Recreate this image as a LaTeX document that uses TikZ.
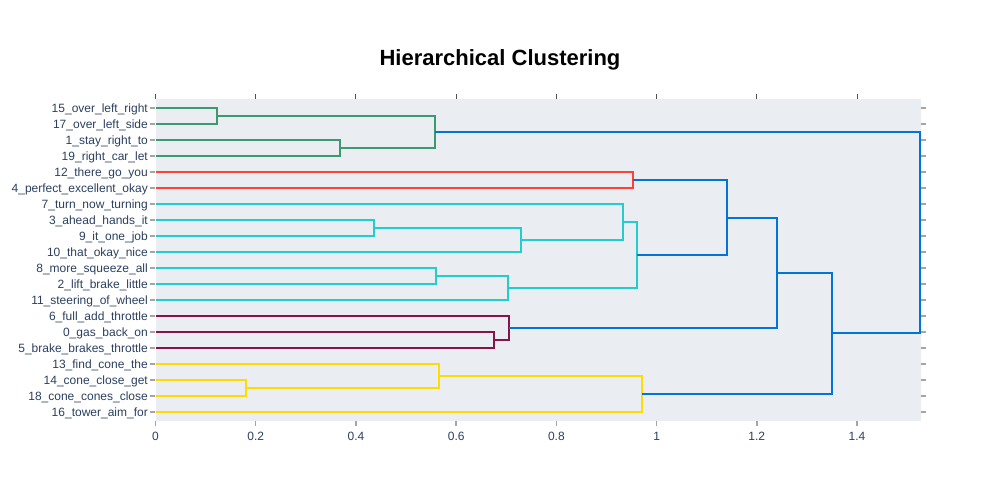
\documentclass[tikz,border=0pt]{standalone}
\usepackage{fontspec}
\setmainfont{Liberation Sans}
\definecolor{cgreen}{RGB}{61,153,112}
\definecolor{cred}{RGB}{255,65,54}
\definecolor{ccyan}{RGB}{35,205,205}
\definecolor{cmaroon}{RGB}{133,20,75}
\definecolor{cyellow}{RGB}{255,220,0}
\definecolor{cblue}{RGB}{0,116,217}
\definecolor{bgc}{RGB}{234,237,241}
\definecolor{labelc}{RGB}{42,63,95}
\definecolor{tickgray}{RGB}{165,165,165}
\definecolor{tickdark}{RGB}{80,80,80}
\begin{document}
\begin{tikzpicture}[x=1pt,y=-1pt,
  link/.style={line width=2pt},
  lbl/.style={anchor=base east, font=\fontsize{12}{12}\selectfont, text=labelc, inner sep=0pt},
  xlbl/.style={anchor=base, font=\fontsize{12}{12}\selectfont, text=labelc, inner sep=0pt},
  sidetick/.style={draw=tickgray, line width=2pt},
  toptick/.style={draw=tickdark, line width=1pt},
  bottick/.style={draw=tickgray, line width=1.5pt}]
\useasboundingbox (0,0) rectangle (1000,500);
\fill[bgc] (155.5,99) rectangle (920.7,420.7);
\node[font=\fontsize{22}{22}\selectfont\bfseries, text=black, inner sep=0pt, anchor=base] (title) at (500,65.5) {Hierarchical Clustering};
% x axis ticks
\foreach \v/\s in {0/0,0.2/0.2,0.4/0.4,0.6/0.6,0.8/0.8,1/1,1.2/1.2,1.4/1.4}{
  \draw[toptick] ({155.5+501.1*\v},94) -- ({155.5+501.1*\v},99);
  \draw[bottick] ({155.5+501.1*\v},420.7) -- ({155.5+501.1*\v},425.5);
  \node[xlbl] at ({155.5+501.1*\v},440) {\s};
}
% leaves
\foreach \n/\t [count=\i from 0] in {
  15/15\_over\_left\_right, 17/17\_over\_left\_side, 1/1\_stay\_right\_to, 19/19\_right\_car\_let,
  12/12\_there\_go\_you, 4/4\_perfect\_excellent\_okay, 7/7\_turn\_now\_turning, 3/3\_ahead\_hands\_it,
  9/9\_it\_one\_job, 10/10\_that\_okay\_nice, 8/8\_more\_squeeze\_all, 2/2\_lift\_brake\_little,
  11/11\_steering\_of\_wheel, 6/6\_full\_add\_throttle, 0/0\_gas\_back\_on, 5/5\_brake\_brakes\_throttle,
  13/13\_find\_cone\_the, 14/14\_cone\_close\_get, 18/18\_cone\_cones\_close, 16/16\_tower\_aim\_for}{
  \coordinate (L\n) at (155.5,{108+16*\i});
  \draw[sidetick] (150,{108+16*\i}) -- (155,{108+16*\i});
  \draw[sidetick] (920.7,{108+16*\i}) -- (926,{108+16*\i});
  \node[lbl] (t\n) at (148,{112.3+16*\i}) {\t};
}
% join points
\coordinate (A) at (216.6,116);
\coordinate (B) at (339.9,148);
\coordinate (G) at (435.1,132);
\coordinate (R) at (632.5,180);
\coordinate (C1) at (374.0,228);
\coordinate (C2) at (521.3,240);
\coordinate (C3) at (622.5,222);
\coordinate (C4) at (435.6,276);
\coordinate (C5) at (507.8,288);
\coordinate (C6) at (637.1,255);
\coordinate (M1) at (493.7,340);
\coordinate (M2) at (509.3,328);
\coordinate (Y1) at (246.2,388);
\coordinate (Y2) at (438.6,376);
\coordinate (Y3) at (641.6,394);
\coordinate (RC) at (726.8,217.5);
\coordinate (RCM) at (776.9,272.75);
\coordinate (RCMY) at (832.0,333.375);
\coordinate (T) at (919.7,232.7);
% green
\draw[link, cgreen] (L15) -| (A) |- (L17);
\draw[link, cgreen] (L1) -| (B) |- (L19);
\draw[link, cgreen] (A) -| (G) |- (B);
% red
\draw[link, cred] (L12) -| (R) |- (L4);
% cyan
\draw[link, ccyan] (L3) -| (C1) |- (L9);
\draw[link, ccyan] (C1) -| (C2) |- (L10);
\draw[link, ccyan] (L7) -| (C3) |- (C2);
\draw[link, ccyan] (L8) -| (C4) |- (L2);
\draw[link, ccyan] (C4) -| (C5) |- (L11);
\draw[link, ccyan] (C3) -| (C6) |- (C5);
% maroon
\draw[link, cmaroon] (L0) -| (M1) |- (L5);
\draw[link, cmaroon] (L6) -| (M2) |- (M1);
% yellow
\draw[link, cyellow] (L14) -| (Y1) |- (L18);
\draw[link, cyellow] (L13) -| (Y2) |- (Y1);
\draw[link, cyellow] (Y2) -| (Y3) |- (L16);
% blue
\draw[link, cblue] (R) -| (RC) |- (C6);
\draw[link, cblue] (RC) -| (RCM) |- (M2);
\draw[link, cblue] (RCM) -| (RCMY) |- (Y3);
\draw[link, cblue] (G) -| (T) |- (RCMY);
\end{tikzpicture}
\end{document}
